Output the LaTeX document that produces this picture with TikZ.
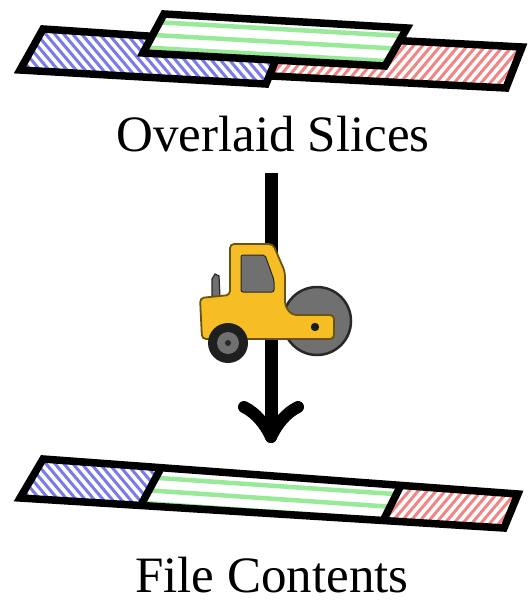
\documentclass[tikz,border=0pt]{standalone}
\usepackage{fontspec}
\setmainfont{Liberation Serif}
\definecolor{hatchblue}{RGB}{122,122,234}
\definecolor{hatchred}{RGB}{242,132,132}
\definecolor{hatchgreen}{RGB}{152,234,152}
\definecolor{rollyellow}{RGB}{246,190,36}
\definecolor{rolledge}{RGB}{105,82,18}
\definecolor{rollgrey}{RGB}{112,112,112}
\definecolor{rolldark}{RGB}{40,40,40}
\begin{document}
\begin{tikzpicture}[x=1pt,y=-1pt,
  slice/.style={draw=black,line width=7.5pt,line join=miter},
  bluelines/.style={draw=hatchblue,line width=3pt},
  redlines/.style={draw=hatchred,line width=3pt},
  greenlines/.style={draw=hatchgreen,line width=4.5pt},
  caption/.style={font=\fontsize{51}{60}\selectfont,anchor=base,inner sep=0pt},
  shaft/.style={line width=13pt},
  barb/.style={line width=12pt,line cap=round},
  rollbody/.style={fill=rollyellow,draw=rolledge,line width=1.8pt,rounded corners=4pt},
  rollpart/.style={fill=rollgrey,draw=rolldark,line width=2pt}]
\useasboundingbox (0,0) rectangle (528,602);

% ---------- overlaid slices ----------
% red slice (back)
\coordinate (r1) at (272,34); \coordinate (r2) at (522,47);
\coordinate (r3) at (506,88); \coordinate (r4) at (252,75);
\fill[white] (r1) -- (r2) -- (r3) -- (r4) -- cycle;
\begin{scope}
  \clip (r1) -- (r2) -- (r3) -- (r4) -- cycle;
  \foreach \x in {200,209,...,640} \draw[redlines] (\x,0) -- ++(-80,95);
\end{scope}
\draw[slice] (r1) -- (r2) -- (r3) -- (r4) -- cycle;

% blue slice
\coordinate (b1) at (43,29); \coordinate (b2) at (282,45);
\coordinate (b3) at (266,84); \coordinate (b4) at (20,70);
\fill[white] (b1) -- (b2) -- (b3) -- (b4) -- cycle;
\begin{scope}
  \clip (b1) -- (b2) -- (b3) -- (b4) -- cycle;
  \foreach \x in {-100,-91,...,320} \draw[bluelines] (\x,0) -- ++(80,95);
\end{scope}
\draw[slice] (b1) -- (b2) -- (b3) -- (b4) -- cycle;

% green slice (front)
\coordinate (g1) at (164,14); \coordinate (g2) at (407,28);
\coordinate (g3) at (385,66); \coordinate (g4) at (143,53);
\fill[white] (g1) -- (g2) -- (g3) -- (g4) -- cycle;
\begin{scope}
  \clip (g1) -- (g2) -- (g3) -- (g4) -- cycle;
  \foreach \y in {19,32,45,58} \draw[greenlines] (100,\y) -- (450,\y+19.6);
\end{scope}
\draw[slice] (g1) -- (g2) -- (g3) -- (g4) -- cycle;

\node[caption] (overlaid) at (273,151) {Overlaid Slices};

% ---------- arrow ----------
\coordinate (arrowtop) at (271,173);
\coordinate (arrowtip) at (271,437);
\draw[shaft] (arrowtop) -- (arrowtip);
\draw[barb] (244,407) .. controls (256,413) and (265,424) .. (arrowtip);
\draw[barb] (298,407) .. controls (286,413) and (277,424) .. (arrowtip);

% ---------- steamroller ----------
\draw[rollpart,line width=1.2pt] (212,297) -- (212,279) -- (215,274) -- (219,276) -- (220,297) -- cycle;
\draw[rollpart,line width=2.5pt] (317,321) circle[radius=34];
\draw[rollbody] (230,244) -- (273,244) -- (285,272) -- (285,306) -- (292,315)
  -- (334,315) -- (334,339) -- (202,339) -- (200,298) -- (230,295) -- cycle;
\draw[rollpart,line width=1pt,rounded corners=2pt] (241,255) -- (265,255) -- (274,280) -- (274,292) -- (241,292) -- cycle;
\fill[rolldark!70!black] (315,327) circle[radius=4.2];
\fill[black!88] (228,343) circle[radius=20];
\fill[rollgrey] (228,343) circle[radius=11];
\fill[rolldark] (228,343) circle[radius=3];

% ---------- file contents ----------
\coordinate (fa) at (43,459); \coordinate (fb) at (518,494);
\coordinate (fc) at (504,528); \coordinate (fd) at (20,498);
\coordinate (p1) at (161,468); \coordinate (q1) at (141,505);
\coordinate (p2) at (401,485); \coordinate (q2) at (383,521);
\begin{scope}
  \clip (fa) -- (p1) -- (q1) -- (fd) -- cycle;
  \foreach \x in {-100,-91,...,200} \draw[bluelines] (\x,440) -- ++(80,95);
\end{scope}
\begin{scope}
  \clip (p1) -- (p2) -- (q2) -- (q1) -- cycle;
  \foreach \y in {474,487,500,513} \draw[greenlines] (100,\y) -- (450,\y+23.8);
\end{scope}
\begin{scope}
  \clip (p2) -- (fb) -- (fc) -- (q2) -- cycle;
  \foreach \x in {380,389,...,640} \draw[redlines] (\x,440) -- ++(-80,95);
\end{scope}
\draw[slice] (fa) -- (fb) -- (fc) -- (fd) -- cycle;
\draw[slice] (p1) -- (q1);
\draw[slice] (p2) -- (q2);

\node[caption] (contents) at (272,592) {File Contents};
\end{tikzpicture}
\end{document}
